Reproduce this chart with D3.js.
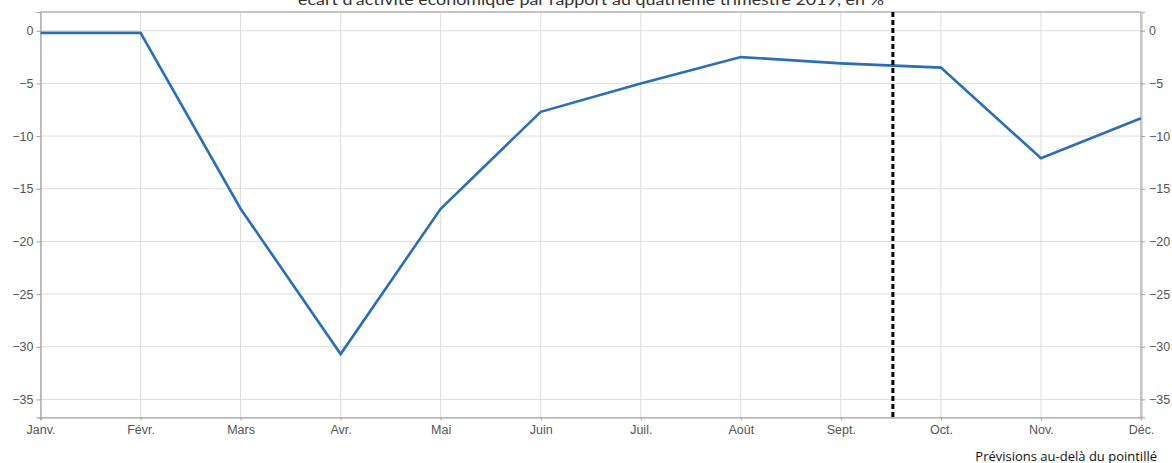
<!DOCTYPE html>
<html><head><meta charset="utf-8">
<script src="https://cdn.jsdelivr.net/npm/d3@7"></script>
<style>
html,body{margin:0;padding:0;background:#fff;}
svg{display:block;}
</style></head>
<body>
<svg id="chart" width="1172" height="463"></svg>
<script>
const months = ["Janv.","Févr.","Mars","Avr.","Mai","Juin","Juil.","Août","Sept.","Oct.","Nov.","Déc."];
const values = [-0.2,-0.2,-16.9,-30.7,-16.9,-7.7,-5.0,-2.5,-3.1,-3.5,-12.1,-8.3];
const yTicks = [0,-5,-10,-15,-20,-25,-30,-35];
const forecastStart = 8.52; // position of the dotted line (month index)
const title = "écart d’activité économique par rapport au quatrième trimestre 2019, en %";
const note = "Prévisions au-delà du pointillé";

const svg = d3.select("#chart");
const L = 40.5, R = 1141, T = 12, B = 417.3;
const x = d3.scaleLinear().domain([0, months.length-1]).range([L, R]);
const y = d3.scaleLinear().domain([1.78, -36.7]).range([T, B]);

// gridlines
svg.append("g").selectAll("line").data(months.map((m,i)=>i)).join("line")
  .attr("x1", d=>x(d)).attr("x2", d=>x(d)).attr("y1", T).attr("y2", B)
  .attr("stroke", "#dcdcdc").attr("stroke-width", 1);
svg.append("g").selectAll("line").data(yTicks).join("line")
  .attr("x1", L).attr("x2", R).attr("y1", d=>y(d)).attr("y2", d=>y(d))
  .attr("stroke", "#dcdcdc").attr("stroke-width", 1);

// frame
svg.append("line").attr("x1", L).attr("x2", R).attr("y1", T).attr("y2", T).attr("stroke", "#c4c4c4").attr("stroke-width", 2);
svg.append("line").attr("x1", R).attr("x2", R).attr("y1", T).attr("y2", B).attr("stroke", "#c4c4c4").attr("stroke-width", 2);

// axes
const yLeft = d3.axisLeft(y).tickValues(yTicks).tickSize(4).tickPadding(3)
  .tickFormat(d => d === 0 ? "0" : "\u2212" + Math.abs(d));
const yRight = d3.axisRight(y).tickValues(yTicks).tickSize(4).tickPadding(4)
  .tickFormat(d => d === 0 ? "0" : "\u2212" + Math.abs(d));
const xAxis = d3.axisBottom(x).tickValues(months.map((m,i)=>i)).tickSize(3).tickPadding(5)
  .tickFormat(i => months[i]);

function style(g){
  g.select(".domain").attr("stroke", "#a0a0a0").attr("stroke-width", 1.2);
  g.selectAll(".tick line").attr("stroke", "#a0a0a0");
  g.selectAll(".tick text").attr("fill", "#555").attr("font-family", "Liberation Sans, Arial, sans-serif").attr("font-size", 12.5);
}
svg.append("g").attr("transform", `translate(${L},0)`).call(yLeft).call(style);
svg.append("g").attr("transform", `translate(${R},0)`).call(yRight).call(style)
  .select(".domain").attr("stroke", "#c4c4c4").attr("stroke-width", 2);
svg.append("g").attr("transform", `translate(0,${B})`).call(xAxis).call(style);

// data line
const line = d3.line().x((d,i)=>x(i)).y(d=>y(d));
svg.append("path").datum(values).attr("d", line)
  .attr("fill", "none").attr("stroke", "#2a6ebb").attr("stroke-width", 2.6).attr("stroke-linejoin", "miter");

// forecast dotted line
svg.append("line").attr("x1", x(forecastStart)).attr("x2", x(forecastStart))
  .attr("y1", T).attr("y2", B)
  .attr("stroke", "#000").attr("stroke-width", 3).attr("stroke-dasharray", "5,3");

// title (cut at the top, as in the reference)
svg.append("text").attr("x", 591).attr("y", 4.5).attr("text-anchor", "middle")
  .attr("font-family", "Lato, 'Open Sans', sans-serif").attr("font-size", 16)
  .attr("fill", "#333").attr("textLength", 586).attr("lengthAdjust", "spacingAndGlyphs")
  .text(title);

// note
svg.append("text").attr("x", 1157).attr("y", 460.5).attr("text-anchor", "end")
  .attr("font-family", "'Open Sans', sans-serif").attr("font-size", 13)
  .attr("fill", "#111").text(note);
</script>
</body></html>
